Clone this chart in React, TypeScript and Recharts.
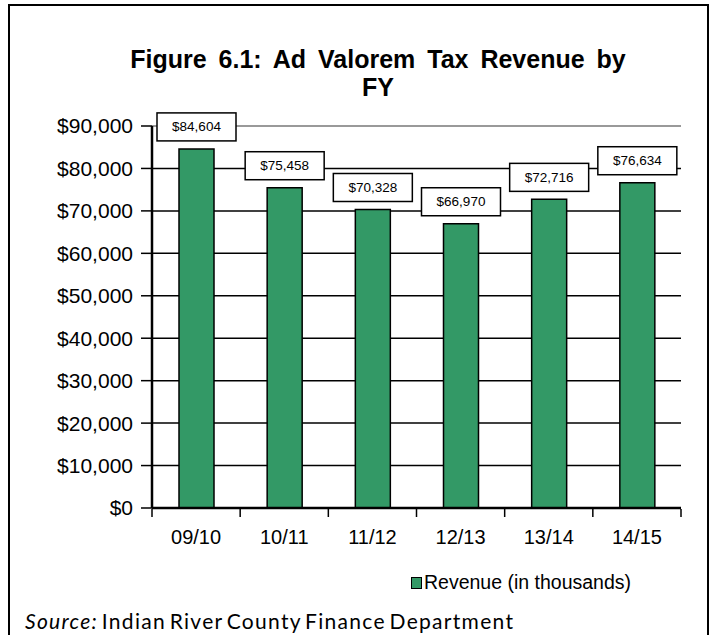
import { BarChart, Bar, XAxis, YAxis, CartesianGrid, ReferenceLine, LabelList, Legend } from "recharts";

const YEARS = ["09/10", "10/11", "11/12", "12/13", "13/14", "14/15"];
const REVENUE = [84604, 75458, 70328, 66970, 72716, 76634];
const Y_TICKS = [0, 10000, 20000, 30000, 40000, 50000, 60000, 70000, 80000, 90000];
const BAND_EDGES = [0, 1, 2, 3, 4, 5, 6];

const data = YEARS.map((fy, i) => ({ fy, revenue: REVENUE[i], edge: i }));

const GREEN = "#339966";
const FONT = "'Liberation Sans', Arial, sans-serif";

const money = (v: number) => `$${v.toLocaleString("en-US")}`;

function ValueBox(props: any) {
  const { x, y, width, value } = props;
  const cx = Number(x) + Number(width) / 2;
  const bottom = Number(y) - 8;
  return (
    <g>
      <rect x={cx - 39.5} y={bottom - 28} width={79} height={28} fill="#fff" stroke="#000" strokeWidth={1.5} />
      <text x={cx} y={bottom - 14} textAnchor="middle" dominantBaseline="central" fontSize={13.5} fontFamily={FONT} fill="#000">
        {money(Number(value))}
      </text>
    </g>
  );
}

function LegendBox() {
  return (
    <div style={{ display: "flex", alignItems: "center", fontFamily: FONT, fontSize: 19.5, color: "#000", whiteSpace: "nowrap" }}>
      <span style={{ display: "inline-block", width: 9, height: 10, background: GREEN, border: "1px solid #000", marginRight: 2 }} />
      Revenue (in thousands)
    </div>
  );
}

export default function App() {
  return (
    <div style={{ position: "absolute", left: 0, top: 0, width: 712, height: 635, background: "#fff", overflow: "hidden" }}>
      <div style={{ position: "absolute", left: 8, top: 4, width: 697, height: 660, border: "2.5px solid #000" }} />
      <div style={{ position: "absolute", left: 0, top: 45, width: 756, textAlign: "center", fontFamily: FONT, fontWeight: "bold", fontSize: 25, lineHeight: "28px", wordSpacing: 5 }}>
        Figure 6.1: Ad Valorem Tax Revenue by
        <br />
        FY
      </div>
      <BarChart
        width={712}
        height={635}
        data={data}
        margin={{ top: 126, right: 31, bottom: 102, left: 2 }}
        style={{ position: "absolute", left: 0, top: 0 }}
      >
        <CartesianGrid vertical={false} stroke="#000" strokeWidth={1.5} />
        <ReferenceLine y={90000} stroke="#999" strokeWidth={2} />
        <XAxis
          dataKey="fy"
          height={1}
          axisLine={false}
          tickLine={false}
          tickMargin={16}
          tick={{ fontSize: 20, fill: "#000", fontFamily: FONT }}
        />
        <XAxis
          xAxisId="edges"
          type="number"
          dataKey="edge"
          domain={[0, 6]}
          ticks={BAND_EDGES}
          allowDataOverflow
          height={1}
          tick={() => <g />}
          axisLine={false}
          tickLine={{ stroke: "#000", strokeWidth: 1.5 }}
          tickSize={8}
        />
        <YAxis
          width={150}
          domain={[0, 90000]}
          ticks={Y_TICKS}
          interval={0}
          tickFormatter={money}
          axisLine={{ stroke: "#000", strokeWidth: 2.5 }}
          tickLine={{ stroke: "#000", strokeWidth: 1.5 }}
          tickSize={11}
          tickMargin={8}
          tick={{ fontSize: 21, fill: "#000", fontFamily: FONT }}
        />
        <YAxis yAxisId="frame" orientation="right" width={0} tick={false} tickLine={false} axisLine={{ stroke: "#999", strokeWidth: 2 }} />
        <ReferenceLine y={0} stroke="#000" strokeWidth={2.5} />
        <Legend
          content={<LegendBox />}
          wrapperStyle={{ position: "absolute", left: 411, top: 571, width: 280 }}
        />
        <Bar dataKey="revenue" name="Revenue (in thousands)" fill={GREEN} stroke="#000" strokeWidth={1.5} barSize={35} isAnimationActive={false}>
          <LabelList dataKey="revenue" content={<ValueBox />} />
        </Bar>
      </BarChart>
      <div style={{ position: "absolute", left: 25, top: 610, fontFamily: "Lato, 'Open Sans', sans-serif", fontSize: 21, lineHeight: "21px", letterSpacing: 1.3, wordSpacing: -3, color: "#000", whiteSpace: "nowrap" }}>
        <i>Source:</i> Indian River County Finance Department
      </div>
    </div>
  );
}
